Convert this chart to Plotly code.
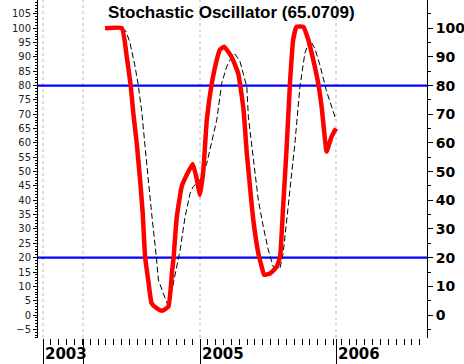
import plotly.graph_objects as go

# x positions are in weeks relative to the start of 2005
stoch_x = [-36.3, -29.9, -28.0, -26.5, -25.5, -24.2, -22.9, -21.9, -21.0, -19.8, -18.5, -16.6,
           -14.5, -12.1, -10.7, -10.1, -8.9, -7.0, -5.1, -2.8, -1.3, 0.0, 1.3, 2.6, 4.5, 6.4,
           7.6, 9.2, 12.1, 14.6, 16.6, 17.9, 19.1, 20.4, 22.3, 23.6, 24.5, 26.8, 29.3, 30.6,
           31.8, 33.1, 34.4, 35.6, 36.9, 39.5, 41.4, 43.3, 45.2, 46.5, 47.8, 48.4, 50.3, 52.0]
stoch_k = [100, 100, 90, 80, 70.4, 60, 47, 35.5, 20.3, 12.2, 4.1, 2.4,
           1.5, 2.9, 15, 20, 34, 44.8, 48.8, 52.7, 47.7, 41.9, 50.6, 68, 80.8, 89,
           92.5, 93.6, 90, 84.3, 72, 56.4, 44.8, 33, 21.5, 16.8, 14, 14.5, 16.8, 20.3,
           38, 58, 80.8, 95.9, 100.5, 100.5, 96, 89, 80.8, 72.7, 61, 57, 62.2, 65.0709]

signal_x = [-29.9, -28.3, -26.8, -24.9, -23.6, -22.2, -21.0, -19.8, -18.5, -16.7, -15.9, -14.5,
            -12.1, -10.2, -7.6, -5.7, -3.8, -2.6, 0.0, 2.6, 4.5, 6.4, 8.3, 10.2, 12.1, 13.4,
            15.3, 17.9, 18.5, 20.4, 22.3, 24.2, 26.1, 28.0, 30.6, 31.8, 33.7, 36.3, 38.2, 40.1,
            42.0, 43.9, 45.9, 48.4, 52.0]
stoch_d = [100, 99, 95, 87, 80.2, 70.4, 58.7, 47, 35.5, 20.3, 12.2, 8.7,
           2.9, 11, 22.7, 34.3, 42.4, 44.8, 47, 52.9, 60, 68, 80.8, 86.6, 90, 91,
           88.4, 79.6, 69, 54, 40, 30.8, 22.7, 16.8, 16.4, 21.5, 38, 60, 79.6, 91.3,
           96, 93, 87, 78, 68]

ref_levels = [80, 20]
grid_weeks = [-60.0, -44.7, 0.0, 52.0]
year_labels = ["2003", "", "2005", "2006"]
left_ticks = list(range(-5, 110, 5))
right_ticks = list(range(0, 110, 10))

fig = go.Figure()
fig.add_trace(go.Scatter(x=signal_x, y=stoch_d, mode="lines",
                         line=dict(color="black", width=1, dash="6px,3px"),
                         showlegend=False, hoverinfo="skip"))
fig.add_trace(go.Scatter(x=stoch_x, y=stoch_k, mode="lines",
                         line=dict(color="#ff0000", width=4.5, shape="spline", smoothing=0.4),
                         showlegend=False))
# invisible trace for the right axis
fig.add_trace(go.Scatter(x=[stoch_x[0]], y=[stoch_k[0]], yaxis="y2", mode="markers",
                         marker=dict(opacity=0), showlegend=False, hoverinfo="skip"))

for g in grid_weeks:
    fig.add_shape(type="line", xref="x", yref="paper", x0=g, x1=g, y0=0, y1=1,
                  line=dict(color="#b8b8b8", width=1, dash="3px,3px"), layer="below")
for lv in ref_levels:
    fig.add_shape(type="line", xref="paper", yref="y", x0=0, x1=1, y0=lv, y1=lv,
                  line=dict(color="#0000ff", width=2.2), layer="below")

for g, t in zip(grid_weeks, year_labels):
    if t:
        fig.add_annotation(x=g, xref="x", y=-0.047, yref="paper", text="<b>%s</b>" % t,
                           showarrow=False, xanchor="left", yanchor="middle", xshift=0,
                           font=dict(family="DejaVu Sans", size=15, color="black"))

fig.add_annotation(x=0.497, xref="paper", y=1 - 13 / 338, yref="paper",
                   text="<b>Stochastic Oscillator (65.0709)</b>", showarrow=False,
                   xanchor="center", yanchor="middle",
                   font=dict(family="Liberation Sans", size=17, color="black"))

yr = [-8.02, 109.87]
fig.update_layout(
    width=464, height=364,
    margin=dict(l=38, r=37, t=0, b=26, autoexpand=False),
    paper_bgcolor="white", plot_bgcolor="white",
    xaxis=dict(range=[-61.94, 86.79], showgrid=False, zeroline=False, showline=False,
               tickmode="array", tickvals=grid_weeks, ticktext=["" for _ in grid_weeks],
               ticks="outside", ticklen=26, tickwidth=1, tickcolor="black",
               minor=dict(ticks="outside", dtick=3, tick0=0, ticklen=6, tickcolor="black", tickwidth=1),
               fixedrange=True),
    yaxis=dict(range=yr, showgrid=False, zeroline=False, showline=True, linecolor="black",
               linewidth=1, mirror=False, tickmode="array", tickvals=left_ticks,
               ticks="outside", ticklen=4, tickcolor="black",
               minor=dict(ticks="outside", dtick=1, tick0=0, ticklen=2, tickcolor="black"),
               tickfont=dict(family="DejaVu Sans", size=10, color="#222"), automargin=False),
    yaxis2=dict(range=yr, overlaying="y", side="right", showgrid=False, zeroline=False,
                showline=True, linecolor="black", linewidth=1, tickmode="array",
                tickvals=right_ticks, ticktext=["<b>%d</b>" % v for v in right_ticks],
                ticks="outside", ticklen=5, tickcolor="black",
                minor=dict(ticks="outside", dtick=5, tick0=0, ticklen=3, tickcolor="black"),
                tickfont=dict(family="DejaVu Sans", size=14, color="black"), automargin=False),
)

fig.write_html("out.html", config={"displayModeBar": False},
               post_script="document.body.style.margin='0px';document.body.style.overflow='hidden';")
